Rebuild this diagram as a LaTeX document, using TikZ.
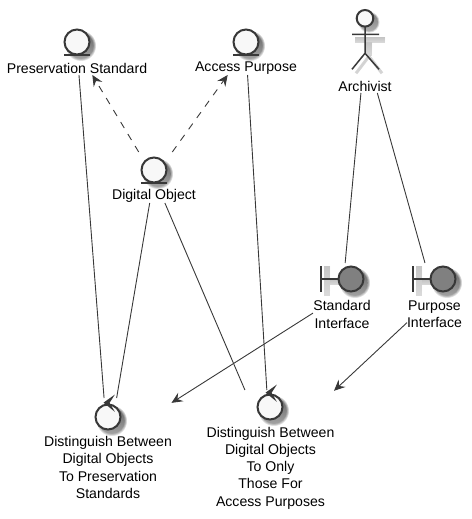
\documentclass[tikz,border=0pt]{standalone}
\usepackage{fontspec}
\setmainfont{Liberation Sans}
\usetikzlibrary{arrows.meta}
\definecolor{ink}{HTML}{383838}
\definecolor{paper}{HTML}{F8F8F8}
\definecolor{dark}{HTML}{808080}
\definecolor{shade}{HTML}{808080}
\tikzset{
  x=1bp,y=-1bp,
  ico/.style={draw=ink,line width=1.5bp},
  box/.style={inner sep=0pt,outer sep=0pt,minimum width=#1},
  lab/.style={inner sep=0pt,align=center,text=black,font=\fontsize{14.1bp}{17.3bp}\selectfont},
  link/.style={draw=ink,line width=0.9bp},
  dlink/.style={link,dash pattern=on 7bp off 7bp,-{Stealth[length=11bp,width=10bp,inset=4bp]}},
  alink/.style={link,-{Stealth[length=11bp,width=10bp,inset=4bp]}},
  softdisc/.pic={
    \foreach \r/\o in {15/.12,14.2/.16,13.4/.22,12.6/.3}{\fill[shade,opacity=\o] (4,4) circle (\r);}
  },
  entitypic/.pic={
    \pic at (0,0) {softdisc};
    \draw[ico,line width=2bp,fill=paper] (0,0) circle (12.5);
    \draw[ico] (-13,13) -- (13,13);
  },
  controlpic/.pic={
    \pic at (0,0) {softdisc};
    \draw[ico,line width=2bp,fill=paper] (0,0) circle (12.5);
    \draw[ico,line width=1.8bp,fill=ink] (3.6,-19) -- (-3,-14.3) -- (3.6,-9) -- (0.5,-14.2) -- cycle;
  },
  boundarypic/.pic={
    \fill[shade,opacity=.17] (-27,-13) rectangle (-21,17);
    \fill[shade,opacity=.17] (-21,1) rectangle (-8,6);
    \pic at (0,0) {softdisc};
    \draw[ico,line width=2bp] (-30,-13) -- (-30,13);
    \draw[ico] (-30,0) -- (-12.5,0);
    \draw[ico,line width=2bp,fill=dark] (0,0) circle (12.5);
  },
  actorpic/.pic={
    \fill[shade,opacity=.17] (-10,19) rectangle (20,24.5);
    \fill[shade,opacity=.17] (1,24.5) rectangle (7,38);
    \draw[shade,opacity=.17,line width=3bp] (4,38) -- (-9,55) (4,38) -- (17,55);
    \foreach \r/\o in {10.5/.12,9.7/.16,9/.25}{\fill[shade,opacity=\o] (4,4) circle (\r);}
    \draw[ico,line width=2bp,fill=paper] (0,0) circle (8.3);
    \draw[ico] (0,8.3) -- (0,35) (-13,16) -- (14,16) (0,35) -- (-13,51) (0,35) -- (14,51);
  }
}
\begin{document}
\begin{tikzpicture}
\useasboundingbox (0,0) rectangle (472,519);
% layout boxes
\node[box=141bp,minimum height=51bp] (ps) at (77,49.5) {};
\node[box=105bp,minimum height=51bp] (ap) at (246,49.5) {};
\node[box=84bp,minimum height=51bp] (dobj) at (154,177.5) {};
\node[box=54bp,minimum height=88bp] (arch) at (365,49) {};
\node[box=58bp,minimum height=68bp] (std) at (342,297) {};
\node[box=55bp,minimum height=68bp] (pur) at (434.5,297) {};
\node[box=127bp,minimum height=102bp] (ca) at (108,449) {};
\node[box=127bp,minimum height=120bp] (cb) at (270.5,450) {};
% icons
\pic at (77,42) {entitypic};
\pic at (246,42) {entitypic};
\pic at (154,170) {entitypic};
\pic at (365,18.3) {actorpic};
\pic at (351,279) {boundarypic};
\pic at (443,279) {boundarypic};
\pic at (108,417) {controlpic};
\pic at (270,407) {controlpic};
% labels
\node[lab] (psl) at (77,68) {Preservation Standard};
\node[lab] (apl) at (246,68) {Access Purpose};
\node[lab] (dol) at (154,196) {Digital Object};
\node[lab] (arl) at (365,86) {Archivist};
\node[lab] (stl) at (342,314.5) {Standard\\Interface};
\node[lab] (pul) at (434.5,314.5) {Purpose\\Interface};
\node[lab] (cal) at (108,467.5) {Distinguish Between\\Digital Objects\\To Preservation\\Standards};
\node[lab] (cbl) at (270.5,468) {Distinguish Between\\Digital Objects\\To Only\\Those For\\Access Purposes};
% connectors
\draw[link] (ps) -- (ca);
\draw[link] (ap) -- (cb);
\draw[link] (dobj) -- (ca);
\draw[link] (dobj) -- (cb);
\draw[link] (arch) -- (std);
\draw[link] (arch) -- (pur);
\draw[dlink] (dobj) -- (ps);
\draw[dlink] (dobj) -- (ap);
\draw[alink] (std.209) -- (ca.36.5);
\draw[alink] (pur) -- (cb);
\end{tikzpicture}
\end{document}
